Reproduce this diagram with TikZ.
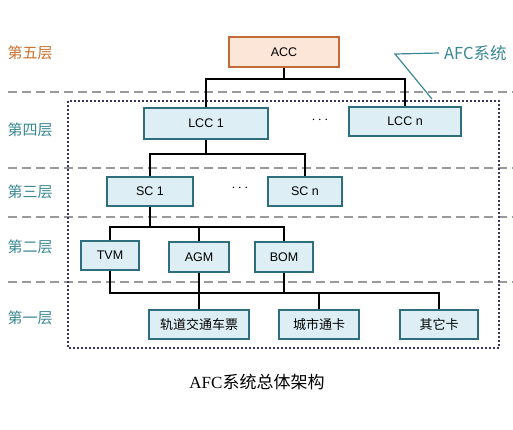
\documentclass[tikz,border=0pt]{standalone}
\usepackage{fontspec}
\setmainfont{Liberation Sans}
\newfontfamily\cjk{Noto Sans CJK SC}
\newfontfamily\capserif{Liberation Serif}
\definecolor{boxfill}{HTML}{DDEFF4}
\definecolor{boxline}{HTML}{2F6E7C}
\definecolor{accfill}{HTML}{FCE6D8}
\definecolor{accline}{HTML}{C46A35}
\definecolor{layerteal}{HTML}{3A8893}
\definecolor{layerorange}{HTML}{C8702E}
\definecolor{dashgrey}{HTML}{9A9A9A}
\definecolor{frameblue}{HTML}{3C3466}
\begin{document}
\begin{tikzpicture}[x=1pt,y=-1pt,
  blk/.style={draw=boxline,fill=boxfill,line width=1.4pt,inner sep=0pt,font=\fontsize{12.5}{12.5}\selectfont},
  cjkblk/.style={blk,font=\fontsize{13}{13}\selectfont\cjk},
  accblk/.style={draw=accline,fill=accfill,line width=1.4pt,inner sep=0pt,font=\fontsize{12.5}{12.5}\selectfont},
  conn/.style={black,line width=1.3pt},
  layerline/.style={dashgrey,line width=1.3pt,dash pattern=on 9pt off 5pt},
  layerlbl/.style={layerteal,font=\fontsize{15}{15}\selectfont\cjk},
  dots/.style={font=\fontsize{14}{14}\selectfont}]
\useasboundingbox (0,0) rectangle (513,429);
% layer dashed lines
\draw[layerline] (8,92) -- (513,92);
\draw[layerline] (8,168) -- (513,168);
\draw[layerline] (8,217) -- (513,217);
\draw[layerline] (8,282) -- (513,282);
% dotted frame
\draw[frameblue,line width=1.8pt,dash pattern=on 2pt off 2pt] (68,101) rectangle (499,348);
% nodes
\node[accblk,minimum width=110pt,minimum height=30pt] (acc) at (284,52) {ACC};
\node[blk,minimum width=124pt,minimum height=31pt] (lcc1) at (206,123.5) {LCC 1};
\node[blk,minimum width=112pt,minimum height=29pt] (lccn) at (405,121.5) {LCC n};
\node[dots] (d1) at (320,120) {$\cdots$};
\node[blk,minimum width=86pt,minimum height=29pt] (sc1) at (150,191.5) {SC 1};
\node[blk,minimum width=74pt,minimum height=29pt] (scn) at (305,191.5) {SC n};
\node[dots] (d2) at (240,188) {$\cdots$};
\node[blk,minimum width=58pt,minimum height=29pt] (tvm) at (110,255.5) {TVM};
\node[blk,minimum width=60pt,minimum height=30pt] (agm) at (199,257) {AGM};
\node[blk,minimum width=58pt,minimum height=30pt] (bom) at (284,257) {BOM};
\node[cjkblk,minimum width=100pt,minimum height=29pt] (gd) at (199,324.5) {轨道交通车票};
\node[cjkblk,minimum width=80pt,minimum height=29pt] (cs) at (319,324.5) {城市通卡};
\node[cjkblk,minimum width=78pt,minimum height=29pt] (qt) at (439,324.5) {其它卡};
% junctions
\coordinate (j1) at (284,79);
\coordinate (j2) at (206,154);
\coordinate (j3) at (150,227);
\coordinate (j4) at (110,293);
% connectors
\draw[conn] (acc.south) -- (j1);
\draw[conn] (lcc1.north) |- (j1) -| (lccn.north);
\draw[conn] (lcc1.south) -- (j2);
\draw[conn] (sc1.north) |- (j2) -| (scn.north);
\draw[conn] (sc1.south) -- (j3);
\draw[conn] (tvm.north) |- (j3) -| (bom.north);
\draw[conn] (agm.north) -- (agm.north |- j3);
\draw[conn] (tvm.south) |- (j4 -| qt.north) -- (qt.north);
\draw[conn] (agm.south) -- (gd.north);
\draw[conn] (bom.south) -- (bom.south |- j4);
\draw[conn] (cs.north) -- (cs.north |- j4);
% layer labels
\node[layerlbl,text=layerorange] (l5) at (30,53) {第五层};
\node[layerlbl] (l4) at (30,130) {第四层};
\node[layerlbl] (l3) at (30,192) {第三层};
\node[layerlbl] (l2) at (30,247) {第二层};
\node[layerlbl] (l1) at (30,318) {第一层};
% AFC system label
\node[layerteal,font=\fontsize{16.5}{16.5}\selectfont\cjk,anchor=west,inner sep=0pt] (afc) at (444,53) {AFC系统};
\coordinate (k1) at (395,54);
\coordinate (k2) at (432,99);
\draw[layerteal,line width=1.2pt] (afc.west) ++(-5pt,0) -- (k1) -- (k2);
% caption
\node[font=\fontsize{17}{17}\selectfont] (cap) at (257,382) {{\capserif AFC}{\cjk 系统总体架构}};
\end{tikzpicture}
\end{document}
